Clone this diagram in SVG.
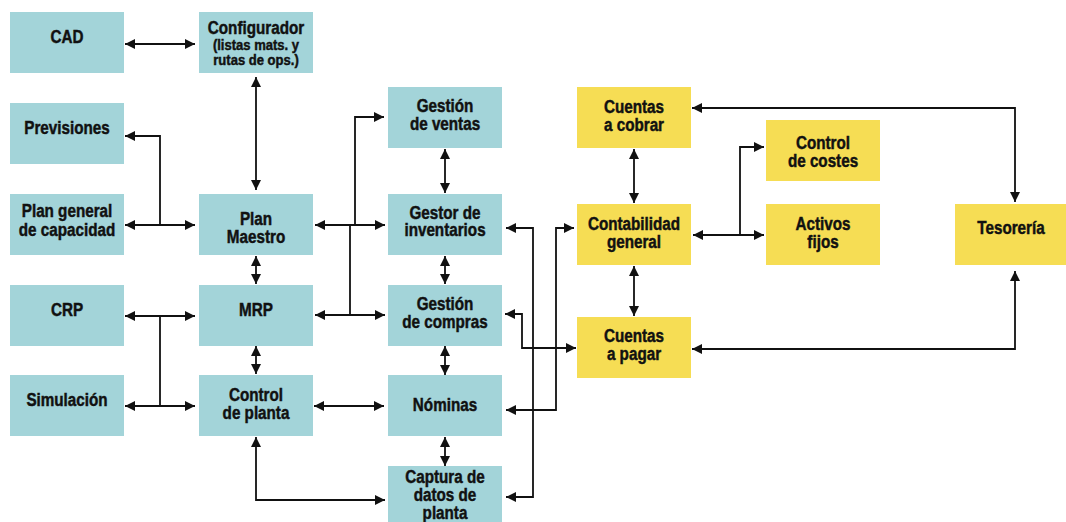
<svg xmlns="http://www.w3.org/2000/svg" width="1066" height="522" viewBox="0 0 1066 522">
  <defs>
    <style>
      .box { stroke: none; }
      .blue { fill: #A3D4D9; }
      .yellow { fill: #F6DD54; }
      .lbl { font-family: "Liberation Sans", Arial, sans-serif; font-weight: bold; font-size: 17.5px; fill: #111; stroke: #111; stroke-width: 0.45; text-anchor: middle; }
      .sm { font-size: 14.5px; }
      .wire { fill: none; stroke: #111; stroke-width: 1.8; }
    </style>
    <marker id="ah" viewBox="0 0 10 10" refX="10" refY="5" markerWidth="10" markerHeight="10" markerUnits="userSpaceOnUse" orient="auto-start-reverse">
      <path d="M0,0 L10,5 L0,10 z" fill="#111"/>
    </marker>
  </defs>

  <rect width="1066" height="522" fill="#fff"/>

  <!-- connectors -->
  <g id="connectors" class="wire">
    <path d="M125,44 H195" marker-start="url(#ah)" marker-end="url(#ah)"/>
    <path d="M256,77 V190" marker-start="url(#ah)" marker-end="url(#ah)"/>
    <path d="M125,225 H195" marker-start="url(#ah)" marker-end="url(#ah)"/>
    <path d="M160,225 V136 H125" marker-end="url(#ah)"/>
    <path d="M256,256 V284" marker-start="url(#ah)" marker-end="url(#ah)"/>
    <path d="M125,316 H195" marker-start="url(#ah)" marker-end="url(#ah)"/>
    <path d="M160,316 V406"/>
    <path d="M125,406 H195" marker-start="url(#ah)" marker-end="url(#ah)"/>
    <path d="M256,346 V374" marker-start="url(#ah)" marker-end="url(#ah)"/>
    <path d="M314,406 H384" marker-start="url(#ah)" marker-end="url(#ah)"/>
    <path d="M256,437 V500 H385" marker-start="url(#ah)" marker-end="url(#ah)"/>
    <path d="M315,225 H385" marker-start="url(#ah)" marker-end="url(#ah)"/>
    <path d="M350,225 V315"/>
    <path d="M315,315 H385" marker-start="url(#ah)" marker-end="url(#ah)"/>
    <path d="M355,225 V117 H384" marker-end="url(#ah)"/>
    <path d="M445,149 V193" marker-start="url(#ah)" marker-end="url(#ah)"/>
    <path d="M445,256 V284" marker-start="url(#ah)" marker-end="url(#ah)"/>
    <path d="M445,346 V375" marker-start="url(#ah)" marker-end="url(#ah)"/>
    <path d="M445,437 V466" marker-start="url(#ah)" marker-end="url(#ah)"/>
    <path d="M506,228 H533 V497 H506" marker-start="url(#ah)" marker-end="url(#ah)"/>
    <path d="M505,314 H522 V348 H576" marker-start="url(#ah)" marker-end="url(#ah)"/>
    <path d="M506,410 H556 V228 H574" marker-start="url(#ah)" marker-end="url(#ah)"/>
    <path d="M634,149 V203" marker-start="url(#ah)" marker-end="url(#ah)"/>
    <path d="M634,266 V316" marker-start="url(#ah)" marker-end="url(#ah)"/>
    <path d="M693,235 H764" marker-start="url(#ah)" marker-end="url(#ah)"/>
    <path d="M740,235 V147 H764" marker-end="url(#ah)"/>
    <path d="M692,108 H1015 V202" marker-start="url(#ah)" marker-end="url(#ah)"/>
    <path d="M692,349 H1015 V271" marker-start="url(#ah)" marker-end="url(#ah)"/>
  </g>

  <!-- left column -->
  <g id="cad">
    <rect class="box blue" x="10" y="12" width="114" height="61"/>
    <text class="lbl" transform="translate(67,0) scale(0.87,1)" x="0" y="43">CAD</text>
  </g>
  <g id="previsiones">
    <rect class="box blue" x="10" y="103" width="114" height="61"/>
    <text class="lbl" transform="translate(67,0) scale(0.87,1)" x="0" y="134">Previsiones</text>
  </g>
  <g id="plan-general">
    <rect class="box blue" x="10" y="194" width="114" height="61"/>
    <text class="lbl" transform="translate(67,0) scale(0.87,1)"><tspan x="0" y="217.5">Plan general</tspan><tspan x="0" y="236">de capacidad</tspan></text>
  </g>
  <g id="crp">
    <rect class="box blue" x="10" y="285" width="114" height="61"/>
    <text class="lbl" transform="translate(67,0) scale(0.87,1)" x="0" y="316">CRP</text>
  </g>
  <g id="simulacion">
    <rect class="box blue" x="10" y="375" width="114" height="61"/>
    <text class="lbl" transform="translate(67,0) scale(0.87,1)" x="0" y="406">Simulación</text>
  </g>

  <!-- second column -->
  <g id="configurador">
    <rect class="box blue" x="199" y="12" width="114" height="61"/>
    <text class="lbl" transform="translate(256,0) scale(0.87,1)" x="0" y="34">Configurador</text>
    <text class="lbl sm" transform="translate(256,0) scale(0.9,1)"><tspan x="0" y="50.5">(listas mats. y</tspan><tspan x="0" y="65">rutas de ops.)</tspan></text>
  </g>
  <g id="plan-maestro">
    <rect class="box blue" x="199" y="194" width="114" height="61"/>
    <text class="lbl" transform="translate(256,0) scale(0.87,1)"><tspan x="0" y="225">Plan</tspan><tspan x="0" y="243">Maestro</tspan></text>
  </g>
  <g id="mrp">
    <rect class="box blue" x="199" y="285" width="114" height="61"/>
    <text class="lbl" transform="translate(256,0) scale(0.87,1)" x="0" y="316">MRP</text>
  </g>
  <g id="control-planta">
    <rect class="box blue" x="199" y="375" width="114" height="61"/>
    <text class="lbl" transform="translate(256,0) scale(0.87,1)"><tspan x="0" y="401">Control</tspan><tspan x="0" y="419.5">de planta</tspan></text>
  </g>

  <!-- third column -->
  <g id="gestion-ventas">
    <rect class="box blue" x="388" y="87" width="114" height="61"/>
    <text class="lbl" transform="translate(445,0) scale(0.87,1)"><tspan x="0" y="112.5">Gestión</tspan><tspan x="0" y="130">de ventas</tspan></text>
  </g>
  <g id="gestor-inventarios">
    <rect class="box blue" x="388" y="194" width="114" height="61"/>
    <text class="lbl" transform="translate(445,0) scale(0.87,1)"><tspan x="0" y="219">Gestor de</tspan><tspan x="0" y="236.5">inventarios</tspan></text>
  </g>
  <g id="gestion-compras">
    <rect class="box blue" x="388" y="285" width="114" height="61"/>
    <text class="lbl" transform="translate(445,0) scale(0.87,1)"><tspan x="0" y="310">Gestión</tspan><tspan x="0" y="328.5">de compras</tspan></text>
  </g>
  <g id="nominas">
    <rect class="box blue" x="388" y="375" width="114" height="61"/>
    <text class="lbl" transform="translate(445,0) scale(0.87,1)" x="0" y="411.5">Nóminas</text>
  </g>
  <g id="captura-datos">
    <rect class="box blue" x="388" y="466" width="114" height="61"/>
    <text class="lbl" transform="translate(445,0) scale(0.87,1)"><tspan x="0" y="483.5">Captura de</tspan><tspan x="0" y="501.5">datos de</tspan><tspan x="0" y="519.5">planta</tspan></text>
  </g>

  <!-- accounting -->
  <g id="cuentas-cobrar">
    <rect class="box yellow" x="577" y="87" width="114" height="61"/>
    <text class="lbl" transform="translate(634,0) scale(0.87,1)"><tspan x="0" y="113.5">Cuentas</tspan><tspan x="0" y="131">a cobrar</tspan></text>
  </g>
  <g id="contabilidad">
    <rect class="box yellow" x="577" y="204" width="114" height="61"/>
    <text class="lbl" transform="translate(634,0) scale(0.87,1)"><tspan x="0" y="230.5">Contabilidad</tspan><tspan x="0" y="248.5">general</tspan></text>
  </g>
  <g id="cuentas-pagar">
    <rect class="box yellow" x="577" y="317" width="114" height="61"/>
    <text class="lbl" transform="translate(634,0) scale(0.87,1)"><tspan x="0" y="342.5">Cuentas</tspan><tspan x="0" y="360.5">a pagar</tspan></text>
  </g>
  <g id="control-costes">
    <rect class="box yellow" x="766" y="120" width="114" height="61"/>
    <text class="lbl" transform="translate(823,0) scale(0.87,1)"><tspan x="0" y="149.5">Control</tspan><tspan x="0" y="167.5">de costes</tspan></text>
  </g>
  <g id="activos-fijos">
    <rect class="box yellow" x="766" y="204" width="114" height="61"/>
    <text class="lbl" transform="translate(823,0) scale(0.87,1)"><tspan x="0" y="230.5">Activos</tspan><tspan x="0" y="248.5">fijos</tspan></text>
  </g>
  <g id="tesoreria">
    <rect class="box yellow" x="955" y="204" width="111" height="61"/>
    <text class="lbl" transform="translate(1011,0) scale(0.87,1)" x="0" y="234.5">Tesorería</text>
  </g>
</svg>
